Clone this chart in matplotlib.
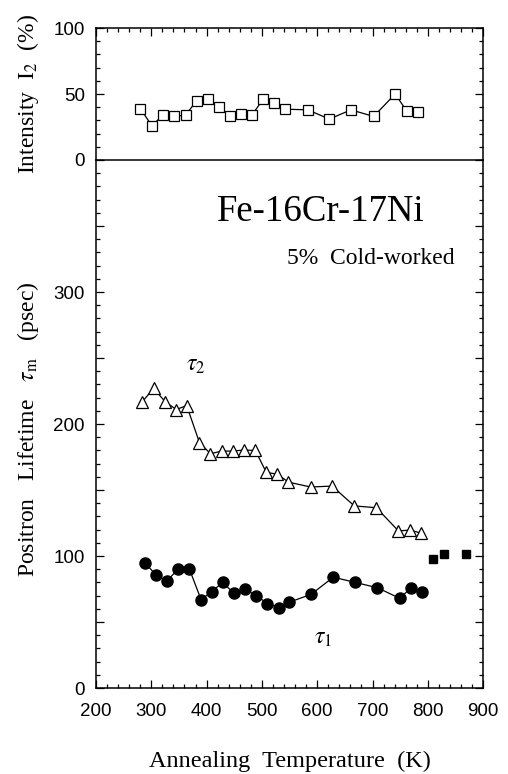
import numpy as np
import matplotlib.pyplot as plt
from matplotlib.ticker import MultipleLocator, FuncFormatter

plt.rcParams['font.family'] = ['Liberation Sans', 'DejaVu Sans']
plt.rcParams['mathtext.fontset'] = 'stix'

# intensity I2 (open squares, upper panel)
temp_i2 = [280, 301, 321, 341, 362, 382, 402, 422, 442, 462, 482,
           502, 522, 542, 583, 622, 661, 702, 741, 762, 782]
intensity_i2 = [39, 26, 34, 33, 34, 45, 46, 40, 33, 35, 34,
                46, 43, 38.5, 38, 31, 38, 33, 50, 37, 36]

# tau2 (open triangles)
temp_tau2 = [284, 304, 325, 345, 364, 387, 407, 427, 447, 467, 488,
             508, 528, 548, 588, 627, 667, 707, 747, 767, 788]
tau2 = [217, 227, 217, 211, 214, 186, 177.5, 179.5, 179.5, 180.3, 180,
        163.4, 162, 156, 152.3, 153, 138, 136.6, 119, 119.7, 117.4]

# tau1 (filled circles)
temp_tau1 = [288, 308, 328, 348, 369, 390, 409, 429, 449, 469, 490,
             510, 530, 549, 589, 629, 669, 709, 749, 770, 789]
tau1 = [95, 86, 81, 90, 90, 67, 73, 80, 72, 75, 70,
        64, 61, 65, 71, 84, 80, 76, 68, 76, 72.5]

# single-component lifetime (filled squares)
temp_single = [809, 829, 869]
tau_single = [97.5, 101.7, 101.7]

fig = plt.figure(figsize=(5.08, 7.74), dpi=100)
ax_top = fig.add_axes([0.189, 0.7933, 0.762, 0.1705])
ax = fig.add_axes([0.189, 0.111, 0.762, 0.6823], sharex=ax_top)

serif = ['Liberation Serif', 'DejaVu Serif']

# upper panel
ax_top.plot(temp_i2, intensity_i2, color='black', lw=0.9, marker='s', ms=7.5,
            mfc='white', mec='black', mew=0.9)
ax_top.set_ylim(0, 100)
ax_top.yaxis.set_major_locator(MultipleLocator(50))
ax_top.yaxis.set_minor_locator(MultipleLocator(10))
ax_top.tick_params(axis='x', which='both', top=True, bottom=False,
                   labelbottom=False, labeltop=False)
ax_top.set_ylabel(r'Intensity  I$_2$  (%)', family=serif, fontsize=17)
ax_top.yaxis.set_label_coords(-0.142, 0.5)
ax_top.spines['bottom'].set_visible(False)

# lower panel
ax.plot(temp_tau2, tau2, color='black', lw=0.9, marker='^', ms=9,
        mfc='white', mec='black', mew=0.9)
ax.plot(temp_tau1, tau1, color='black', lw=0.9, marker='o', ms=8,
        mfc='black', mec='black')
ax.plot(temp_single, tau_single, ls='none', marker='s', ms=5.5,
        mfc='black', mec='black')

ax.set_xlim(200, 900)
ax.set_ylim(0, 400)
ax.xaxis.set_major_locator(MultipleLocator(100))
ax.xaxis.set_minor_locator(MultipleLocator(20))
ax.yaxis.set_major_locator(MultipleLocator(50))
ax.yaxis.set_minor_locator(MultipleLocator(10))
ax.yaxis.set_major_formatter(FuncFormatter(
    lambda v, p: f'{int(v)}' if v % 100 == 0 and v < 400 else ''))
ax.tick_params(axis='x', which='both', top=False, bottom=True)
ax.tick_params(axis='x', which='major', pad=11)
ax.set_xlabel('Annealing  Temperature  (K)', family=serif, fontsize=17.5, labelpad=22)
ax.set_ylabel(r'Positron   Lifetime   $\tau_\mathrm{m}$   (psec)', family=serif,
              fontsize=17)
ax.yaxis.set_label_coords(-0.142, 0.49)

for a in (ax_top, ax):
    a.tick_params(which='both', direction='in', right=True, labelsize=13.5,
                  width=0.9)
    a.tick_params(axis='y', which='major', length=6, pad=8)
    a.tick_params(axis='x', which='major', length=6)
    a.tick_params(which='minor', length=3)
    for s in a.spines.values():
        s.set_linewidth(1.1)

ax.text(0.313, 0.9015, 'Fe-16Cr-17Ni', transform=ax.transAxes, family=serif,
        fontsize=26.5, ha='left', va='center')
ax.text(0.494, 0.814, '5%  Cold-worked', transform=ax.transAxes, family=serif,
        fontsize=17, ha='left', va='center')
ax.text(380, 245, r'$\tau_2$', fontsize=17, ha='center', va='center')
ax.text(611, 38, r'$\tau_1$', fontsize=17, ha='center', va='center')

fig.savefig('out.png', dpi=100)
